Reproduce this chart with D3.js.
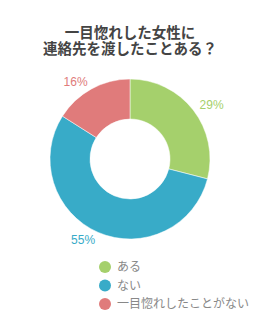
<!DOCTYPE html>
<html><head><meta charset="utf-8">
<script src="https://cdn.jsdelivr.net/npm/d3@7"></script>
<style>body{margin:0;background:#fff;}svg{display:block;}</style>
</head><body>
<svg id="c" width="260" height="320"></svg>
<script>
const titleLines = ["一目惚れした女性に", "連絡先を渡したことある？"];
const categories = ["ある", "ない", "一目惚れしたことがない"];
const values = [29, 55, 16];
const colors = ["#a5d06c", "#38abc8", "#e07b7b"];

const svg = d3.select("#c");
const cx = 130, cy = 159, rOuter = 80, rInner = 40;

const title = svg.append("text")
  .attr("text-anchor", "middle")
  .attr("font-family", "'Noto Sans CJK JP', sans-serif")
  .attr("font-weight", "bold").attr("font-size", 14.5)
  .attr("fill", "#444");
title.selectAll("tspan").data(titleLines).join("tspan")
  .attr("x", 130).attr("y", (d, i) => 37.5 + i * 16).text(d => d);

const pie = d3.pie().sort(null).value(d => d);
const arcs = pie(values);
const arc = d3.arc().innerRadius(rInner).outerRadius(rOuter);
const g = svg.append("g").attr("transform", `translate(${cx},${cy})`);
g.selectAll("path").data(arcs).join("path")
  .attr("d", arc).attr("fill", (d, i) => colors[i])
  .attr("stroke", "#fff").attr("stroke-width", 0.5);

const rl = 88;
g.selectAll("text").data(arcs).join("text")
  .each(function (d, i) {
    const a = (d.startAngle + d.endAngle) / 2;
    const x = rl * Math.sin(a), y = -rl * Math.cos(a);
    d3.select(this).attr("x", x).attr("y", y).attr("dy", "0.35em")
      .attr("text-anchor", Math.sin(a) >= 0 ? "start" : "end");
  })
  .attr("font-family", "Arial, 'Liberation Sans', sans-serif")
  .attr("font-size", 12).attr("fill", (d, i) => colors[i])
  .text(d => d.data + "%");

const lg = svg.append("g").selectAll("g").data(categories).join("g")
  .attr("transform", (d, i) => `translate(105,${267 + i * 18.5})`);
lg.append("circle").attr("r", 6).attr("fill", (d, i) => colors[i]);
lg.append("text").attr("x", 12).attr("dy", "0.35em")
  .attr("font-family", "'Noto Sans CJK JP', sans-serif")
  .attr("font-size", 12).attr("fill", "#888").text(d => d);
</script>
</body></html>
